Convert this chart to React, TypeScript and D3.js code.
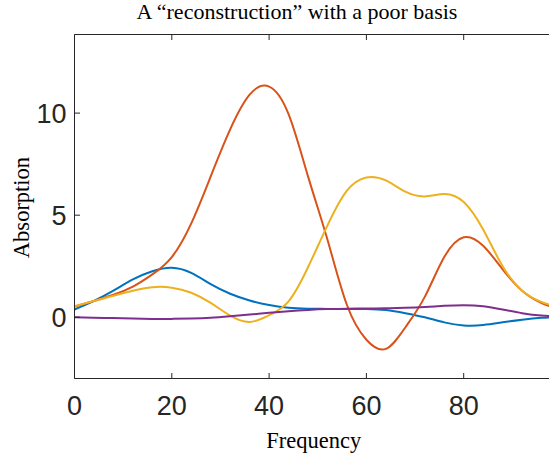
import React from "react";
import * as d3 from "d3";

const xs = [0, 4, 8, 12, 16, 20, 24, 28, 32, 36, 40, 44, 48, 52, 56, 60, 64, 68, 72, 76, 80, 84, 88, 92, 96, 100];
const blue = [0.38, 0.8, 1.3, 1.85, 2.25, 2.42, 2.17, 1.62, 1.15, 0.82, 0.6, 0.46, 0.42, 0.41, 0.41, 0.4, 0.35, 0.2, 0.0, -0.25, -0.4, -0.38, -0.25, -0.12, -0.03, 0.0];
const orange = [0.52, 0.8, 1.1, 1.5, 2.1, 2.95, 4.6, 6.9, 9.2, 10.9, 11.3, 9.95, 6.9, 3.8, 0.6, -1.1, -1.55, -0.5, 1.0, 2.95, 3.92, 3.5, 2.35, 1.3, 0.7, 0.35];
const yellow = [0.54, 0.8, 1.05, 1.3, 1.47, 1.45, 1.2, 0.7, 0.08, -0.23, 0.1, 0.78, 2.45, 4.5, 6.2, 6.85, 6.7, 6.15, 5.92, 6.04, 5.65, 4.3, 2.5, 1.3, 0.75, 0.45];
const purple = [0, -0.02, -0.04, -0.06, -0.08, -0.08, -0.06, -0.02, 0.05, 0.13, 0.22, 0.3, 0.36, 0.4, 0.42, 0.43, 0.44, 0.46, 0.5, 0.56, 0.59, 0.54, 0.38, 0.2, 0.08, 0.03];

const series = [
  { name: "blue", values: blue, color: "#0072BD" },
  { name: "orange", values: orange, color: "#D95319" },
  { name: "yellow", values: yellow, color: "#EDB120" },
  { name: "purple", values: purple, color: "#7E2F8E" },
];

const xTicks = [0, 20, 40, 60, 80];
const yTicks = [0, 5, 10];

const W = 549;
const H = 456;
const left = 74.5;
const right = 561;
const top = 34.5;
const bottom = 378.5;

export default function App() {
  const x = d3.scaleLinear().domain([0, 100]).range([left, right]);
  const y = d3.scaleLinear().domain([-3, 13.85]).range([bottom, top]);
  const line = d3
    .line<number>()
    .x((_, i) => x(xs[i]))
    .y((d) => y(d))
    .curve(d3.curveNatural);
  const axisColor = "#262626";
  const tickLen = 5.5;
  const sans = "'Liberation Sans', Arial, Helvetica, sans-serif";
  const serif = "'Liberation Serif', 'Times New Roman', serif";
  return (
    <svg
      width={W}
      height={H}
      style={{ position: "absolute", left: 0, top: 0, background: "#fff" }}
    >
      <defs>
        <clipPath id="plotclip">
          <rect x={left} y={top} width={right - left} height={bottom - top} />
        </clipPath>
      </defs>
      <rect x={0} y={0} width={W} height={H} fill="#fff" />
      <g clipPath="url(#plotclip)">
        {series.map((s) => (
          <path
            key={s.name}
            d={line(s.values) || ""}
            fill="none"
            stroke={s.color}
            strokeWidth={2}
          />
        ))}
      </g>
      <line x1={left} x2={left} y1={top} y2={bottom} stroke={axisColor} strokeWidth={1} />
      <line x1={left} x2={right} y1={bottom} y2={bottom} stroke={axisColor} strokeWidth={1} />
      <line x1={left} x2={right} y1={top} y2={top} stroke={axisColor} strokeWidth={1} />
      {xTicks.map((t) => (
        <g key={"xt" + t}>
          <line x1={x(t)} x2={x(t)} y1={bottom} y2={bottom - tickLen} stroke={axisColor} />
          <line x1={x(t)} x2={x(t)} y1={top} y2={top + tickLen} stroke={axisColor} />
          <text
            x={x(t)}
            y={415}
            textAnchor="middle"
            fontFamily={sans}
            fontSize={27}
            fill={axisColor}
          >
            {t}
          </text>
        </g>
      ))}
      {yTicks.map((t) => (
        <g key={"yt" + t}>
          <line x1={left} x2={left + tickLen} y1={y(t)} y2={y(t)} stroke={axisColor} />
          <text
            x={66.5}
            y={y(t) + 9.7}
            textAnchor="end"
            fontFamily={sans}
            fontSize={27}
            fill={axisColor}
          >
            {t}
          </text>
        </g>
      ))}
      <text
        x={297}
        y={18.5}
        textAnchor="middle"
        fontFamily={serif}
        fontSize={22}
        fill="#000"
      >
        A “reconstruction” with a poor basis
      </text>
      <text
        x={313.7}
        y={448}
        textAnchor="middle"
        fontFamily={serif}
        fontSize={22.5}
        fill="#000"
      >
        Frequency
      </text>
      <text
        transform={`translate(29.3, 207.5) rotate(-90)`}
        textAnchor="middle"
        fontFamily={serif}
        fontSize={22.5}
        fill="#000"
      >
        Absorption
      </text>
    </svg>
  );
}
